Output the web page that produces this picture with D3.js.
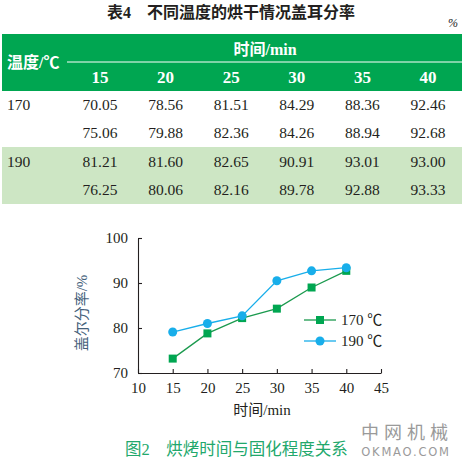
<!DOCTYPE html>
<html><head><meta charset="utf-8">
<script src="https://cdn.jsdelivr.net/npm/d3@7"></script>
<style>
html,body{margin:0;padding:0;background:#fff;}
svg{display:block;}
</style></head>
<body>
<svg id="c" width="467" height="464"></svg>
<script>
// ---- data ----
const tableTitle = "表4\u3000不同温度的烘干情况盖耳分率";
const timeCols = ["15","20","25","30","35","40"];
const tempLabels = ["170","190"];
const row170a = ["70.05","78.56","81.51","84.29","88.36","92.46"];
const row170b = ["75.06","79.88","82.36","84.26","88.94","92.68"];
const row190a = ["81.21","81.60","82.65","90.91","93.01","93.00"];
const row190b = ["76.25","80.06","82.16","89.78","92.88","93.33"];

const times = [15,20,25,30,35,40];
const series170 = [73.2,78.8,82.2,84.3,89.0,92.7];
const series190 = [79.1,81.0,82.7,90.5,92.7,93.4];
const xTicks = [10,15,20,25,30,35,40,45];
const yTicks = [70,80,90,100];
const seriesNames = ["170 ℃","190 ℃"];
const caption = "图2\u3000烘烤时间与固化程度关系";

// ---- drawing ----
const svg = d3.select("#c");
const SERIF = "'Liberation Serif','DejaVu Serif',serif";
const MIX = "'Liberation Serif','Noto Sans CJK SC',serif";
const CJK = "'Noto Sans CJK SC','Noto Sans',sans-serif";
const GREEN = "#00a651";
const LIGHT = "#cde6c4";
const INK = "#231f20";

// title
svg.append("text").attr("x",231).attr("y",18).attr("text-anchor","middle")
  .attr("font-family",MIX).attr("font-weight","bold").attr("font-size",16).attr("fill",INK)
  .text(tableTitle);
svg.append("text").attr("x",453).attr("y",27).attr("text-anchor","middle")
  .attr("font-family",SERIF).attr("font-style","italic").attr("font-size",12).attr("fill","#222")
  .text("%");

// table layout via point scale
const colX = d3.scalePoint().domain(timeCols).range([100,428]);
svg.append("rect").attr("x",2).attr("y",34).attr("width",460).attr("height",57).attr("fill",GREEN);
svg.append("line").attr("x1",67).attr("x2",462).attr("y1",62).attr("y2",62).attr("stroke","#fff").attr("stroke-width",1);
svg.append("text").attr("x",265).attr("y",55).attr("text-anchor","middle").attr("fill","#fff")
  .attr("font-family",MIX).attr("font-weight","bold").attr("font-size",16).text("时间/min");
svg.append("text").attr("x",7).attr("y",68).attr("fill","#fff")
  .attr("font-family",MIX).attr("font-weight","bold").attr("font-size",16).text("温度/℃");
svg.selectAll(".hc").data(timeCols).enter().append("text")
  .attr("x",d=>colX(d)).attr("y",83).attr("text-anchor","middle").attr("fill","#fff")
  .attr("font-family",SERIF).attr("font-weight","bold").attr("font-size",17).text(d=>d);

svg.append("rect").attr("x",2).attr("y",147).attr("width",460).attr("height",57).attr("fill",LIGHT);

const rows = [
  {label:tempLabels[0], vals:row170a, y:110},
  {label:"", vals:row170b, y:138},
  {label:tempLabels[1], vals:row190a, y:167},
  {label:"", vals:row190b, y:195}
];
rows.forEach(r=>{
  svg.append("text").attr("x",7).attr("y",r.y).attr("fill",INK)
    .attr("font-family",SERIF).attr("font-size",15.5).text(r.label);
  svg.selectAll(null).data(r.vals).enter().append("text")
    .attr("x",(d,i)=>colX(timeCols[i])).attr("y",r.y).attr("text-anchor","middle").attr("fill",INK)
    .attr("font-family",SERIF).attr("font-size",15.5).text(d=>d);
});

// chart
const x = d3.scaleLinear().domain([10,45]).range([138,381]);
const y = d3.scaleLinear().domain([70,100]).range([373,238]);

const gx = svg.append("g").attr("transform","translate(0,373)")
  .call(d3.axisBottom(x).tickValues(xTicks).tickSize(-4).tickPadding(9).tickSizeOuter(0));
const gy = svg.append("g").attr("transform","translate(138,0)")
  .call(d3.axisLeft(y).tickValues(yTicks).tickSize(-4).tickPadding(10).tickSizeOuter(0));
[gx,gy].forEach(g=>{
  g.select(".domain").attr("stroke",INK).attr("stroke-width",1.1);
  g.selectAll(".tick line").attr("stroke",INK).attr("stroke-width",1.1);
  g.selectAll(".tick text").attr("font-family",SERIF).attr("font-size",15).attr("fill",INK);
});
gx.selectAll(".tick text").attr("dy","0.71em");

svg.append("text").attr("transform","translate(87,313) rotate(-90)").attr("text-anchor","middle")
  .attr("font-family",MIX).attr("font-size",15).attr("fill","#44607a").text("盖尔分率/%");
svg.append("text").attr("x",262).attr("y",415).attr("text-anchor","middle")
  .attr("font-family",MIX).attr("font-size",15).attr("fill",INK).text("时间/min");

const line = d3.line().x((d,i)=>x(times[i])).y(d=>y(d));
const C170 = "#1b9a4e", C190 = "#18aeea";
svg.append("path").datum(series170).attr("d",line).attr("fill","none").attr("stroke",C170).attr("stroke-width",1.3);
svg.append("path").datum(series190).attr("d",line).attr("fill","none").attr("stroke",C190).attr("stroke-width",1.3);
svg.selectAll(".m170").data(series170).enter().append("rect")
  .attr("x",(d,i)=>x(times[i])-4).attr("y",d=>y(d)-4).attr("width",8).attr("height",8).attr("fill",GREEN);
svg.selectAll(".m190").data(series190).enter().append("circle")
  .attr("cx",(d,i)=>x(times[i])).attr("cy",d=>y(d)).attr("r",4.5).attr("fill",C190);

// legend
const leg = [{n:seriesNames[0],c:C170,y:320,sq:true},{n:seriesNames[1],c:C190,y:341,sq:false}];
leg.forEach(l=>{
  svg.append("line").attr("x1",304).attr("x2",336).attr("y1",l.y).attr("y2",l.y).attr("stroke",l.c).attr("stroke-width",1.3);
  if(l.sq) svg.append("rect").attr("x",316).attr("y",l.y-4).attr("width",8).attr("height",8).attr("fill",GREEN);
  else svg.append("circle").attr("cx",320).attr("cy",l.y).attr("r",4.5).attr("fill",l.c);
  svg.append("text").attr("x",341).attr("y",l.y+5).attr("font-family",MIX).attr("font-size",15).attr("fill",INK).text(l.n);
});

// caption + watermark
svg.append("text").attr("x",125).attr("y",455).attr("font-family",MIX).attr("font-size",16.5).attr("fill","#22a86c").text(caption);
svg.append("text").attr("x",407).attr("y",439).attr("text-anchor","middle").attr("font-family",CJK)
  .attr("font-size",18).attr("letter-spacing",5).attr("fill","#9a9a9a").text("中网机械");
svg.append("text").attr("x",406).attr("y",456).attr("text-anchor","middle").attr("font-family","'DejaVu Sans',sans-serif")
  .attr("font-size",11.5).attr("letter-spacing",1.8).attr("fill","#9a9a9a").text("OKMAO.COM");
</script>
</body></html>
